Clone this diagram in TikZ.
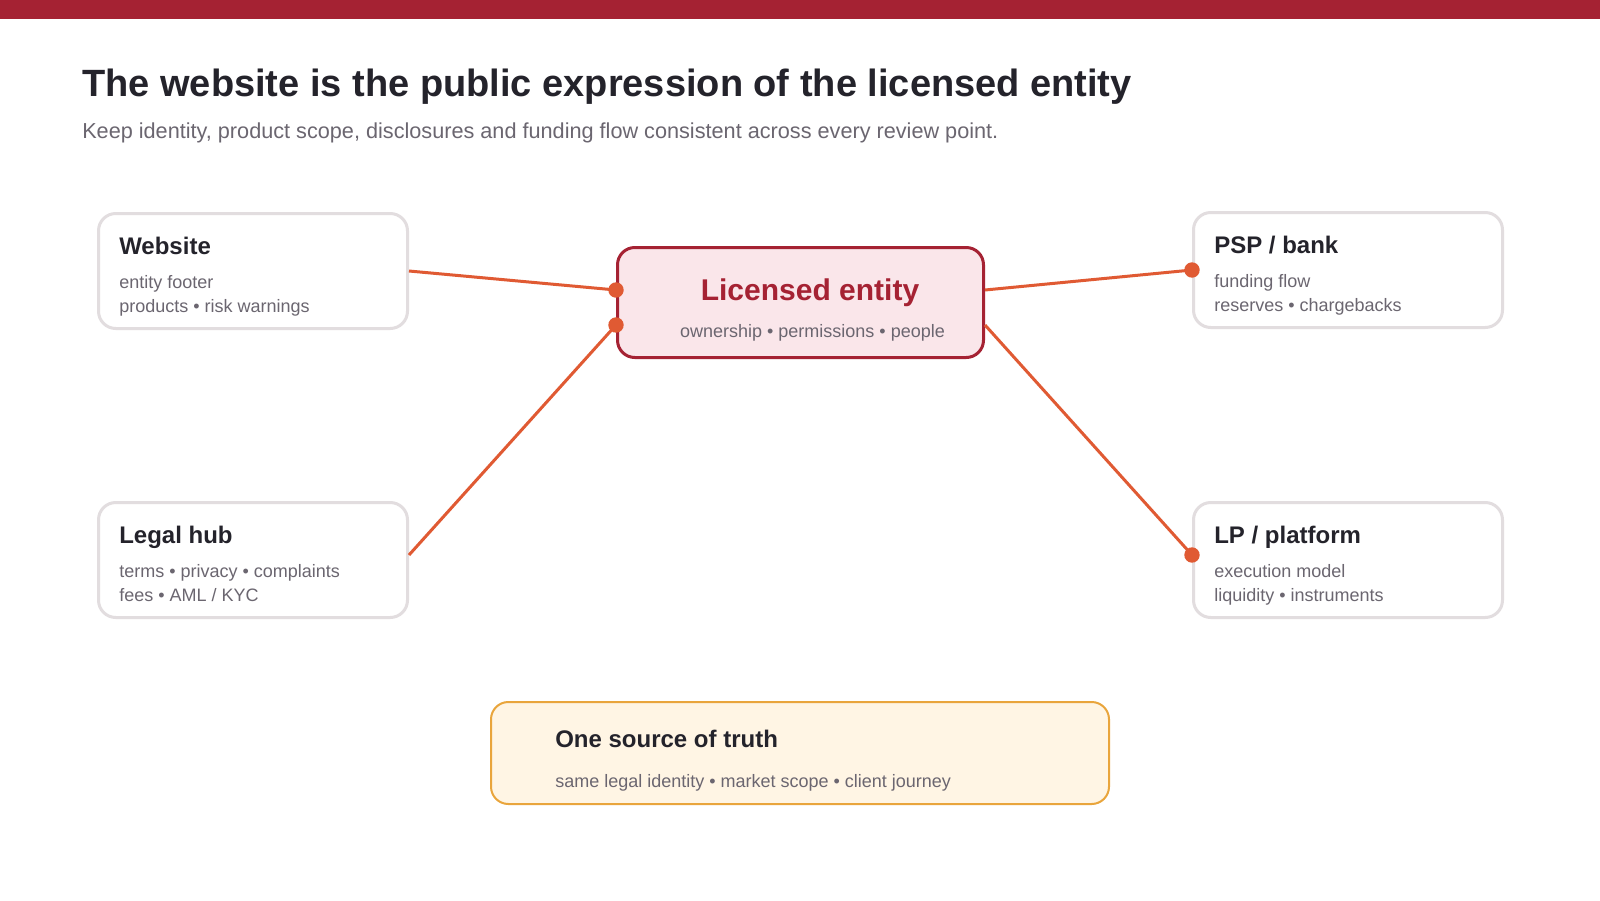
\documentclass[tikz,border=0pt]{standalone}
\usepackage{fontspec}
\setmainfont{Liberation Sans}
\usepackage{xcolor}
\definecolor{entity-red}{HTML}{A52233}
\definecolor{entity-ink}{HTML}{24232B}
\definecolor{entity-muted}{HTML}{6B6670}
\definecolor{entity-line}{HTML}{E2DDDF}
\definecolor{entity-pink}{HTML}{FAE6EA}
\definecolor{entity-wire}{HTML}{E05A33}
\definecolor{entity-cream}{HTML}{FFF5E4}
\definecolor{entity-amber}{HTML}{E9A53C}
\usepackage{tikz}
\usetikzlibrary{arrows.meta,calc}

\tikzset{
    sidebox/.style={draw=entity-line, line width=2.25pt, rounded corners=13pt,
        minimum width=231.75pt, minimum height=86.25pt, inner sep=0pt},
    headtext/.style={anchor=base west, inner sep=0pt, text=entity-ink,
        font=\fontsize{18}{21}\selectfont\bfseries},
    subtext/.style={anchor=base west, inner sep=0pt, text=entity-muted,
        font=\fontsize{13.5}{16}\selectfont},
    wire/.style={draw=entity-wire, line width=2.25pt,
        -{Circle[length=11.5pt]}, shorten >=-5.75pt}
}

\begin{document}
\begin{tikzpicture}[x=0.75pt, y=-0.75pt]

    % Page
    \useasboundingbox (0, 0) rectangle (1600, 900);
    \fill[white] (0, 0) rectangle (1600, 900);
    \fill[entity-red] (0, 0) rectangle (1600, 19);

    % Heading
    \node[headtext, font=\fontsize{28.5}{34}\selectfont\bfseries] (title) at (82, 96)
        {The website is the public expression of the licensed entity};
    \node[subtext, font=\fontsize{16.25}{19}\selectfont] (subtitle) at (82, 138)
        {Keep identity, product scope, disclosures and funding flow consistent across every review point.};

    % Centre
    \node[draw=entity-red, fill=entity-pink, line width=2.25pt, rounded corners=13pt,
        minimum width=274.5pt, minimum height=82.5pt, inner sep=0pt] (ent) at (800.5, 302.5) {};
    \node[anchor=base, inner sep=0pt, text=entity-red,
        font=\fontsize{22.5}{26}\selectfont\bfseries] (ent-head) at ($(ent.north)+(9.5, 54)$) {Licensed entity};
    \node[subtext, anchor=base] (ent-sub) at ($(ent.north)+(12, 91)$) {ownership • permissions • people};
    \coordinate (ent-w1) at ($(ent.west)+(0, -12.5)$);
    \coordinate (ent-w2) at ($(ent.west)+(0, 22.5)$);
    \coordinate (ent-e1) at ($(ent.east)+(0, -12.5)$);
    \coordinate (ent-e2) at ($(ent.east)+(0, 22.5)$);

    % Website
    \node[sidebox] (web) at (253, 271) {};
    \node[headtext] (web-head) at ($(web.north west)+(22, 42)$) {Website};
    \node[subtext] (web-sub1) at ($(web.north west)+(22, 76)$) {entity footer};
    \node[subtext] (web-sub2) at ($(web.north west)+(22, 100)$) {products • risk warnings};

    % Legal hub
    \node[sidebox] (legal) at (253, 560) {};
    \node[headtext] (legal-head) at ($(legal.north west)+(22, 42)$) {Legal hub};
    \node[subtext] (legal-sub1) at ($(legal.north west)+(22, 76)$) {terms • privacy • complaints};
    \node[subtext] (legal-sub2) at ($(legal.north west)+(22, 100)$) {fees • AML / KYC};

    % PSP / bank
    \node[sidebox] (psp) at (1348, 270) {};
    \node[headtext] (psp-head) at ($(psp.north west)+(22, 42)$) {PSP / bank};
    \node[subtext] (psp-sub1) at ($(psp.north west)+(22, 76)$) {funding flow};
    \node[subtext] (psp-sub2) at ($(psp.north west)+(22, 100)$) {reserves • chargebacks};

    % LP / platform
    \node[sidebox] (lp) at (1348, 560) {};
    \node[headtext] (lp-head) at ($(lp.north west)+(22, 42)$) {LP / platform};
    \node[subtext] (lp-sub1) at ($(lp.north west)+(22, 76)$) {execution model};
    \node[subtext] (lp-sub2) at ($(lp.north west)+(22, 100)$) {liquidity • instruments};

    % Wires
    \draw[wire] (web.east) -- (ent-w1);
    \draw[wire] ($(legal.east)+(0, -5)$) -- (ent-w2);
    \draw[wire] (ent-e1) -- (psp.west);
    \draw[wire] (ent-e2) -- ($(lp.west)+(0, -5)$);

    % Source of truth
    \node[draw=entity-amber, fill=entity-cream, line width=1.5pt, rounded corners=13pt,
        minimum width=463.5pt, minimum height=76.5pt, inner sep=0pt] (src) at (800, 753) {};
    \node[headtext] (src-head) at ($(src.north west)+(65, 46)$) {One source of truth};
    \node[subtext] (src-sub) at ($(src.north west)+(65, 86)$) {same legal identity • market scope • client journey};

\end{tikzpicture}
\end{document}
